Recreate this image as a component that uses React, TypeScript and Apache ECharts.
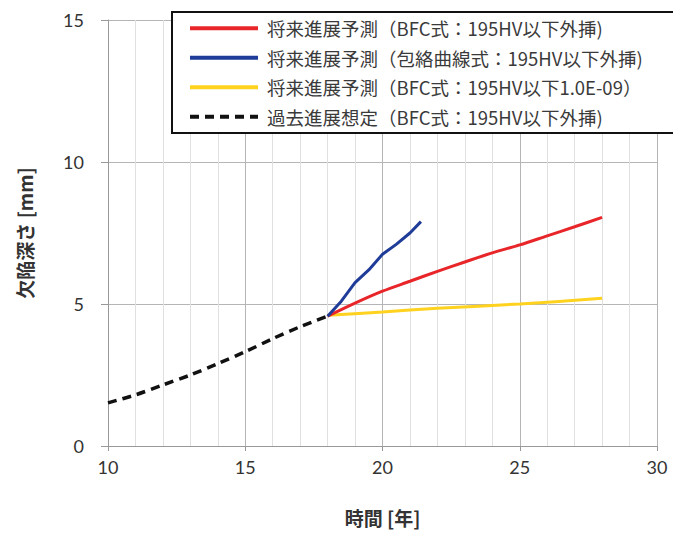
import React, { useEffect, useRef } from "react";
import * as echarts from "echarts";

const seriesNames = [
  "将来進展予測（BFC式：195HV以下外挿)",
  "将来進展予測（包絡曲線式：195HV以下外挿)",
  "将来進展予測（BFC式：195HV以下1.0E-09）",
  "過去進展想定（BFC式：195HV以下外挿)",
];

const redYears = [18, 19, 20, 21, 22, 23, 24, 25, 26, 27, 28];
const redDepth = [4.57, 5.03, 5.45, 5.8, 6.15, 6.48, 6.8, 7.08, 7.4, 7.72, 8.05];

const blueYears = [18, 18.5, 19, 19.5, 20, 20.5, 21, 21.4];
const blueDepth = [4.57, 5.1, 5.75, 6.2, 6.75, 7.1, 7.5, 7.9];

const yellowYears = [18, 20, 22, 25, 28];
const yellowDepth = [4.6, 4.72, 4.85, 5.0, 5.2];

const pastYears = [10, 11, 12, 13, 14, 15, 16, 17, 18];
const pastDepth = [1.52, 1.8, 2.15, 2.5, 2.9, 3.32, 3.78, 4.2, 4.57];

const xTicks = { min: 10, max: 30, interval: 5 };
const yTicks = { min: 0, max: 15, interval: 5 };

const zip = (a: number[], b: number[]) => a.map((v, i) => [v, b[i]]);

export default function App() {
  const ref = useRef<HTMLDivElement>(null);
  useEffect(() => {
    if (!ref.current) return;
    const chart = echarts.init(ref.current, null, { renderer: "svg" });
    const cjk = "'Noto Sans CJK JP', 'Noto Sans', sans-serif";
    chart.setOption({
      animation: false,
      backgroundColor: "#ffffff",
      grid: { left: 108, right: 16, top: 20, bottom: 94 },
      legend: {
        orient: "vertical",
        left: 172,
        top: 12,
        padding: [7, 40, 7, 16],
        itemWidth: 68,
        itemHeight: 14,
        itemGap: 11,
        borderColor: "#111",
        borderWidth: 2,
        backgroundColor: "#fff",
        itemStyle: { opacity: 0 },
        lineStyle: { width: 4 },
        textStyle: { fontFamily: cjk, fontSize: 18.5, color: "#3a3a3a", padding: [0, 0, 0, 4] },
        data: seriesNames,
      },
      xAxis: {
        type: "value",
        min: xTicks.min,
        max: xTicks.max,
        interval: xTicks.interval,
        name: "時間 [年]",
        nameLocation: "middle",
        nameGap: 62,
        nameTextStyle: { fontFamily: cjk, fontSize: 19, fontWeight: "bold", color: "#333" },
        axisLine: { show: true, lineStyle: { color: "#999", width: 1 } },
        axisTick: { show: true, length: 5, lineStyle: { color: "#999" } },
        axisLabel: { fontFamily: "Lato, 'Open Sans', sans-serif", fontSize: 18, color: "#333", margin: 12 },
        splitLine: { show: true, lineStyle: { color: "#b5b5b5", width: 1 } },
        minorTick: { show: false, splitNumber: 5 },
        minorSplitLine: { show: true, lineStyle: { color: "#e0e0e0", width: 1 } },
      },
      yAxis: {
        type: "value",
        min: yTicks.min,
        max: yTicks.max,
        interval: yTicks.interval,
        name: "欠陥深さ [mm]",
        nameLocation: "middle",
        nameGap: 74,
        nameTextStyle: { fontFamily: cjk, fontSize: 19, fontWeight: "bold", color: "#333" },
        axisLine: { show: true, lineStyle: { color: "#999", width: 1 } },
        axisTick: { show: true, length: 7, lineStyle: { color: "#999" } },
        axisLabel: { fontFamily: "Lato, 'Open Sans', sans-serif", fontSize: 18, color: "#333", margin: 24 },
        splitLine: { show: true, lineStyle: { color: "#b5b5b5", width: 1 } },
      },
      series: [
        {
          name: seriesNames[3],
          type: "line",
          data: zip(pastYears, pastDepth),
          symbol: "none",
          smooth: 0.3,
          lineStyle: { color: "#111", width: 3.5, type: [9, 6] },
          itemStyle: { color: "#111" },
        },
        {
          name: seriesNames[2],
          type: "line",
          data: zip(yellowYears, yellowDepth),
          symbol: "none",
          smooth: 0.3,
          lineStyle: { color: "#ffd21f", width: 3 },
          itemStyle: { color: "#ffd21f" },
        },
        {
          name: seriesNames[0],
          type: "line",
          data: zip(redYears, redDepth),
          symbol: "none",
          smooth: 0.3,
          lineStyle: { color: "#e8262a", width: 3 },
          itemStyle: { color: "#e8262a" },
        },
        {
          name: seriesNames[1],
          type: "line",
          data: zip(blueYears, blueDepth),
          symbol: "none",
          smooth: false,
          lineStyle: { color: "#1f3c99", width: 3 },
          itemStyle: { color: "#1f3c99" },
        },
      ],
    });
    return () => chart.dispose();
  }, []);
  return <div ref={ref} style={{ width: 673, height: 540, position: "absolute", left: 0, top: 0 }} />;
}
